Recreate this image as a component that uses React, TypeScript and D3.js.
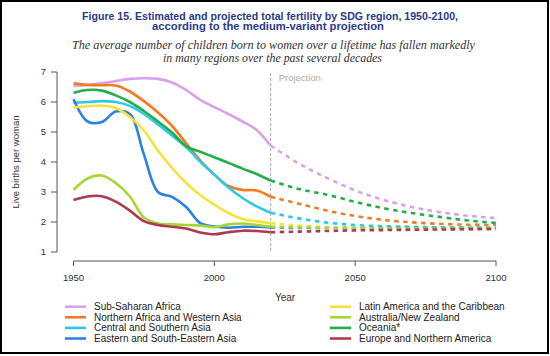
import React from "react";
import * as d3 from "d3";

const histYears = [1950, 1955, 1960, 1965, 1970, 1975, 1980, 1985, 1990, 1995, 2000, 2005, 2010, 2015, 2020];
const projYears = [2020, 2030, 2040, 2050, 2060, 2070, 2080, 2090, 2100];

const regions = [
  "Sub-Saharan Africa",
  "Northern Africa and Western Asia",
  "Central and Southern Asia",
  "Eastern and South-Eastern Asia",
  "Latin America and the Caribbean",
  "Australia/New Zealand",
  "Oceania*",
  "Europe and Northern America",
];
const colors = ["#d9a1ea", "#f47b22", "#2fc7ea", "#2f80e4", "#f5e33a", "#a6d730", "#22ad4f", "#ae3a50"];

const histSSA = [6.53, 6.57, 6.62, 6.7, 6.77, 6.79, 6.77, 6.65, 6.4, 6.07, 5.83, 5.6, 5.35, 5.07, 4.55];
const histNAWA = [6.62, 6.57, 6.56, 6.55, 6.35, 6.03, 5.65, 5.2, 4.62, 4.05, 3.58, 3.2, 3.07, 3.05, 2.84];
const histCSA = [5.98, 6.0, 6.03, 6.0, 5.87, 5.6, 5.25, 4.88, 4.5, 4.01, 3.58, 3.15, 2.8, 2.52, 2.31];
const histESEA = [6.09, 5.35, 5.33, 5.68, 5.6, 4.25, 3.0, 2.84, 2.5, 1.96, 1.85, 1.81, 1.84, 1.84, 1.82];
const histLAC = [5.82, 5.86, 5.88, 5.8, 5.5, 5.05, 4.38, 3.8, 3.3, 2.9, 2.58, 2.3, 2.1, 2.02, 1.96];
const histANZ = [3.07, 3.45, 3.55, 3.3, 2.85, 2.15, 1.95, 1.92, 1.9, 1.88, 1.83, 1.92, 1.95, 1.9, 1.84];
const histOCE = [6.31, 6.4, 6.38, 6.22, 6.0, 5.7, 5.35, 4.98, 4.52, 4.34, 4.16, 3.97, 3.78, 3.6, 3.38];
const histENA = [2.73, 2.85, 2.86, 2.68, 2.38, 2.03, 1.9, 1.84, 1.78, 1.65, 1.59, 1.66, 1.71, 1.7, 1.66];

const projSSA = [4.55, 3.95, 3.47, 3.05, 2.74, 2.5, 2.33, 2.21, 2.13];
const projNAWA = [2.84, 2.61, 2.38, 2.2, 2.07, 1.99, 1.94, 1.91, 1.9];
const projCSA = [2.31, 2.12, 1.98, 1.9, 1.86, 1.84, 1.82, 1.81, 1.8];
const projESEA = [1.82, 1.8, 1.8, 1.8, 1.8, 1.8, 1.8, 1.8, 1.8];
const projLAC = [1.96, 1.88, 1.83, 1.8, 1.78, 1.77, 1.76, 1.76, 1.76];
const projANZ = [1.84, 1.82, 1.81, 1.8, 1.79, 1.79, 1.78, 1.78, 1.78];
const projOCE = [3.38, 3.1, 2.91, 2.67, 2.46, 2.3, 2.17, 2.05, 1.97];
const projENA = [1.66, 1.68, 1.7, 1.72, 1.73, 1.74, 1.75, 1.76, 1.77];

const histSeries = [histSSA, histNAWA, histCSA, histESEA, histLAC, histANZ, histOCE, histENA];
const projSeries = [projSSA, projNAWA, projCSA, projESEA, projLAC, projANZ, projOCE, projENA];

const xTicks = [1950, 2000, 2050, 2100];
const yTicks = [1, 2, 3, 4, 5, 6, 7];
const projectionYear = 2020;

const titleLines = [
  "Figure 15. Estimated and projected total fertility by SDG region, 1950-2100,",
  "according to the medium-variant projection",
];
const subtitleLines = [
  "The average number of children born to women over a lifetime has fallen markedly",
  "in many regions over the past several decades",
];

export default function App() {
  const W = 550;
  const H = 356;
  const x = d3.scaleLinear().domain([1950, 2100]).range([73.5, 496]);
  const y = d3.scaleLinear().domain([1, 7]).range([252, 72]);

  const histLine = d3
    .line<[number, number]>()
    .x((d) => x(d[0]))
    .y((d) => y(d[1]))
    .curve(d3.curveCatmullRom.alpha(0.5));
  const projLine = d3
    .line<[number, number]>()
    .x((d) => x(d[0]))
    .y((d) => y(d[1]))
    .curve(d3.curveMonotoneX);

  const axisColor = "#555";
  const font = "'Liberation Sans', Arial, sans-serif";
  const yAxisX = 57;
  const xAxisY = 261;

  return (
    <svg
      width={W}
      height={H}
      viewBox={`0 0 ${W} ${H}`}
      style={{ position: "absolute", left: 0, top: 0, background: "#fff" }}
    >
      <rect x={0} y={0} width={W} height={H} fill="#fff" />
      <rect x={1} y={1} width={547} height={352} fill="none" stroke="#000" strokeWidth={2} />

      {/* Titles */}
      <g fill="#2b3a8c" fontFamily={font} fontWeight="bold" fontSize={11} textAnchor="middle">
        <text x={270} y={19.5} textLength={376} lengthAdjust="spacingAndGlyphs">
          {titleLines[0]}
        </text>
        <text x={268} y={30} textLength={232} lengthAdjust="spacingAndGlyphs">
          {titleLines[1]}
        </text>
      </g>
      <g
        fill="#333"
        fontFamily="'Liberation Serif', 'Times New Roman', serif"
        fontStyle="italic"
        fontSize={12.5}
        textAnchor="middle"
      >
        <text x={273.5} y={48.5} textLength={403} lengthAdjust="spacingAndGlyphs">
          {subtitleLines[0]}
        </text>
        <text x={272.5} y={62} textLength={219} lengthAdjust="spacingAndGlyphs">
          {subtitleLines[1]}
        </text>
      </g>

      {/* Y axis */}
      <line x1={yAxisX} x2={yAxisX} y1={y(1)} y2={y(7)} stroke={axisColor} strokeWidth={1} />
      {yTicks.map((t) => (
        <g key={"y" + t}>
          <line x1={yAxisX - 6} x2={yAxisX} y1={y(t)} y2={y(t)} stroke={axisColor} strokeWidth={1} />
          <text
            x={46}
            y={y(t) + 3.3}
            textAnchor="end"
            fontFamily={font}
            fontSize={9.5}
            fill="#333"
          >
            {t}
          </text>
        </g>
      ))}
      <text
        transform={`translate(18.5, 162) rotate(-90)`}
        textAnchor="middle"
        fontFamily={font}
        fontSize={9.5}
        fill="#333"
      >
        Live births per woman
      </text>

      {/* X axis */}
      <line x1={x(1950)} x2={x(2100)} y1={xAxisY} y2={xAxisY} stroke={axisColor} strokeWidth={1} />
      {xTicks.map((t) => (
        <g key={"x" + t}>
          <line x1={x(t)} x2={x(t)} y1={xAxisY} y2={xAxisY + 5} stroke={axisColor} strokeWidth={1} />
          <text x={x(t)} y={280.5} textAnchor="middle" fontFamily={font} fontSize={9.5} fill="#333">
            {t}
          </text>
        </g>
      ))}
      <text x={285} y={300.5} textAnchor="middle" fontFamily={font} fontSize={10} fill="#333">
        Year
      </text>

      {/* Projection marker */}
      <line
        x1={x(projectionYear)}
        x2={x(projectionYear)}
        y1={y(7) + 1}
        y2={y(1)}
        stroke="#aaa"
        strokeWidth={1}
        strokeDasharray="3 2"
      />
      <text x={x(projectionYear) + 8} y={80.5} fontFamily={font} fontSize={9.5} fill="#aaa">
        Projection
      </text>

      {/* Lines */}
      {histSeries.map((vals, i) => (
        <path
          key={"h" + i}
          d={histLine(histYears.map((yr, j) => [yr, vals[j]] as [number, number])) || ""}
          fill="none"
          stroke={colors[i]}
          strokeWidth={2.6}
          strokeLinejoin="round"
        />
      ))}
      {projSeries.map((vals, i) => (
        <path
          key={"p" + i}
          d={projLine(projYears.map((yr, j) => [yr, vals[j]] as [number, number])) || ""}
          fill="none"
          stroke={colors[i]}
          strokeWidth={2.6}
          strokeDasharray="4.5 4.5"
        />
      ))}

      {/* Legend */}
      {regions.map((name, i) => {
        const col = Math.floor(i / 4);
        const row = i % 4;
        const lx = col === 0 ? 65 : 330;
        const ly = 306.7 + row * 10.6;
        return (
          <g key={"l" + i}>
            <line x1={lx} x2={lx + 21} y1={ly} y2={ly} stroke={colors[i]} strokeWidth={2.6} />
            <text x={lx + 29} y={ly + 3.5} fontFamily={font} fontSize={10} fill="#222">
              {name}
            </text>
          </g>
        );
      })}
    </svg>
  );
}
